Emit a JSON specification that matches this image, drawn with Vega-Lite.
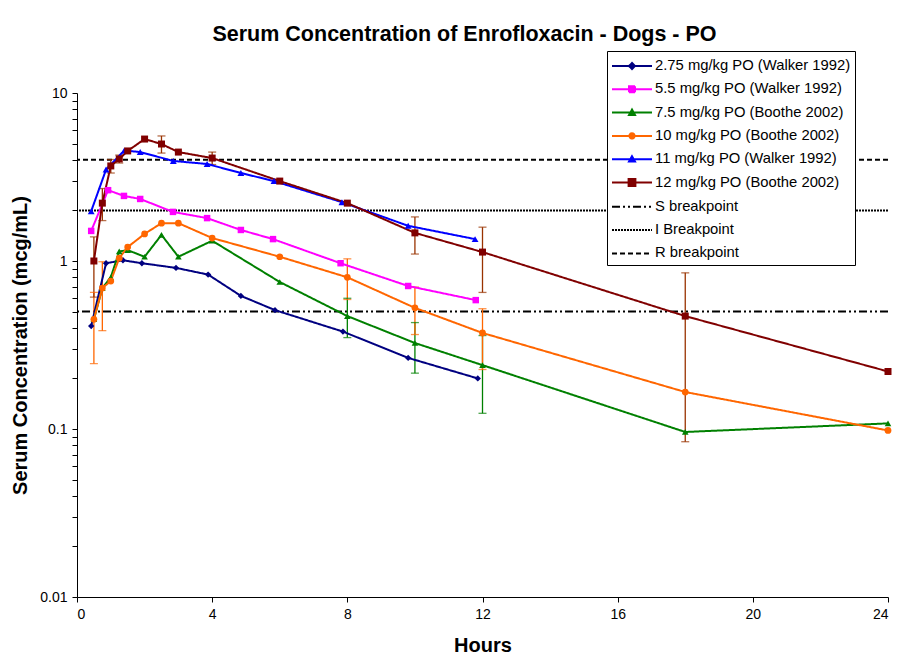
{
  "$schema": "https://vega.github.io/schema/vega-lite/v6.json",
  "width": 811,
  "height": 504,
  "autosize": {"type": "none"},
  "padding": {"left": 77, "top": 93, "right": 32, "bottom": 74},
  "background": "white",
  "config": {
    "view": {"stroke": null},
    "font": "Liberation Sans",
    "axis": {"domainColor": "black", "tickColor": "black", "labelColor": "black", "titleColor": "black", "grid": false, "labelFont": "Liberation Sans", "titleFont": "Liberation Sans", "labelFontSize": 14, "titleFontSize": 20, "titleFontWeight": "bold", "tickSize": 5, "domainWidth": 1, "tickWidth": 1}
  },
  "title": {"text": "Serum Concentration of Enrofloxacin - Dogs - PO", "font": "Liberation Sans", "fontSize": 21.5, "fontWeight": "bold", "color": "black", "anchor": "middle", "dx": -18, "offset": 5},
  "datasets": {
    "pk": [
      {"series": "2.75 mg/kg PO (Walker 1992)", "hours": 0.42, "conc": 0.41},
      {"series": "2.75 mg/kg PO (Walker 1992)", "hours": 0.86, "conc": 0.97},
      {"series": "2.75 mg/kg PO (Walker 1992)", "hours": 1.36, "conc": 1.01},
      {"series": "2.75 mg/kg PO (Walker 1992)", "hours": 1.92, "conc": 0.97},
      {"series": "2.75 mg/kg PO (Walker 1992)", "hours": 2.93, "conc": 0.91},
      {"series": "2.75 mg/kg PO (Walker 1992)", "hours": 3.88, "conc": 0.83},
      {"series": "2.75 mg/kg PO (Walker 1992)", "hours": 4.85, "conc": 0.62},
      {"series": "2.75 mg/kg PO (Walker 1992)", "hours": 5.86, "conc": 0.51},
      {"series": "2.75 mg/kg PO (Walker 1992)", "hours": 7.87, "conc": 0.38},
      {"series": "2.75 mg/kg PO (Walker 1992)", "hours": 9.8, "conc": 0.265},
      {"series": "2.75 mg/kg PO (Walker 1992)", "hours": 11.86, "conc": 0.2},
      {"series": "5.5 mg/kg PO (Walker 1992)", "hours": 0.42, "conc": 1.51},
      {"series": "5.5 mg/kg PO (Walker 1992)", "hours": 0.92, "conc": 2.64},
      {"series": "5.5 mg/kg PO (Walker 1992)", "hours": 1.39, "conc": 2.44},
      {"series": "5.5 mg/kg PO (Walker 1992)", "hours": 1.87, "conc": 2.34},
      {"series": "5.5 mg/kg PO (Walker 1992)", "hours": 2.84, "conc": 1.96},
      {"series": "5.5 mg/kg PO (Walker 1992)", "hours": 3.85, "conc": 1.8},
      {"series": "5.5 mg/kg PO (Walker 1992)", "hours": 4.85, "conc": 1.53},
      {"series": "5.5 mg/kg PO (Walker 1992)", "hours": 5.8, "conc": 1.35},
      {"series": "5.5 mg/kg PO (Walker 1992)", "hours": 7.8, "conc": 0.97},
      {"series": "5.5 mg/kg PO (Walker 1992)", "hours": 9.8, "conc": 0.71},
      {"series": "5.5 mg/kg PO (Walker 1992)", "hours": 11.8, "conc": 0.585},
      {"series": "7.5 mg/kg PO (Boothe 2002)", "hours": 0.5, "conc": 0.45},
      {"series": "7.5 mg/kg PO (Boothe 2002)", "hours": 0.75, "conc": 0.69},
      {"series": "7.5 mg/kg PO (Boothe 2002)", "hours": 1, "conc": 0.8},
      {"series": "7.5 mg/kg PO (Boothe 2002)", "hours": 1.25, "conc": 1.14},
      {"series": "7.5 mg/kg PO (Boothe 2002)", "hours": 1.5, "conc": 1.16},
      {"series": "7.5 mg/kg PO (Boothe 2002)", "hours": 2, "conc": 1.06},
      {"series": "7.5 mg/kg PO (Boothe 2002)", "hours": 2.5, "conc": 1.43},
      {"series": "7.5 mg/kg PO (Boothe 2002)", "hours": 3, "conc": 1.06},
      {"series": "7.5 mg/kg PO (Boothe 2002)", "hours": 4, "conc": 1.32},
      {"series": "7.5 mg/kg PO (Boothe 2002)", "hours": 6, "conc": 0.75},
      {"series": "7.5 mg/kg PO (Boothe 2002)", "hours": 8, "conc": 0.47},
      {"series": "7.5 mg/kg PO (Boothe 2002)", "hours": 10, "conc": 0.325},
      {"series": "7.5 mg/kg PO (Boothe 2002)", "hours": 12, "conc": 0.24},
      {"series": "7.5 mg/kg PO (Boothe 2002)", "hours": 18, "conc": 0.096},
      {"series": "7.5 mg/kg PO (Boothe 2002)", "hours": 24, "conc": 0.108},
      {"series": "10 mg/kg PO (Boothe 2002)", "hours": 0.5, "conc": 0.45},
      {"series": "10 mg/kg PO (Boothe 2002)", "hours": 0.75, "conc": 0.69},
      {"series": "10 mg/kg PO (Boothe 2002)", "hours": 1, "conc": 0.76},
      {"series": "10 mg/kg PO (Boothe 2002)", "hours": 1.25, "conc": 1.04},
      {"series": "10 mg/kg PO (Boothe 2002)", "hours": 1.5, "conc": 1.21},
      {"series": "10 mg/kg PO (Boothe 2002)", "hours": 2, "conc": 1.45},
      {"series": "10 mg/kg PO (Boothe 2002)", "hours": 2.5, "conc": 1.68},
      {"series": "10 mg/kg PO (Boothe 2002)", "hours": 3, "conc": 1.68},
      {"series": "10 mg/kg PO (Boothe 2002)", "hours": 4, "conc": 1.37},
      {"series": "10 mg/kg PO (Boothe 2002)", "hours": 6, "conc": 1.06},
      {"series": "10 mg/kg PO (Boothe 2002)", "hours": 8, "conc": 0.8},
      {"series": "10 mg/kg PO (Boothe 2002)", "hours": 10, "conc": 0.526},
      {"series": "10 mg/kg PO (Boothe 2002)", "hours": 12, "conc": 0.373},
      {"series": "10 mg/kg PO (Boothe 2002)", "hours": 18, "conc": 0.166},
      {"series": "10 mg/kg PO (Boothe 2002)", "hours": 24, "conc": 0.098},
      {"series": "11 mg/kg PO (Walker 1992)", "hours": 0.42, "conc": 1.98},
      {"series": "11 mg/kg PO (Walker 1992)", "hours": 0.86, "conc": 3.5},
      {"series": "11 mg/kg PO (Walker 1992)", "hours": 1.4, "conc": 4.55},
      {"series": "11 mg/kg PO (Walker 1992)", "hours": 1.87, "conc": 4.45},
      {"series": "11 mg/kg PO (Walker 1992)", "hours": 2.85, "conc": 3.94},
      {"series": "11 mg/kg PO (Walker 1992)", "hours": 3.85, "conc": 3.78},
      {"series": "11 mg/kg PO (Walker 1992)", "hours": 4.85, "conc": 3.34},
      {"series": "11 mg/kg PO (Walker 1992)", "hours": 5.83, "conc": 2.99},
      {"series": "11 mg/kg PO (Walker 1992)", "hours": 7.84, "conc": 2.24},
      {"series": "11 mg/kg PO (Walker 1992)", "hours": 9.8, "conc": 1.62},
      {"series": "11 mg/kg PO (Walker 1992)", "hours": 11.78, "conc": 1.35},
      {"series": "12 mg/kg PO (Boothe 2002)", "hours": 0.5, "conc": 1.0},
      {"series": "12 mg/kg PO (Boothe 2002)", "hours": 0.75, "conc": 2.21},
      {"series": "12 mg/kg PO (Boothe 2002)", "hours": 1, "conc": 3.68},
      {"series": "12 mg/kg PO (Boothe 2002)", "hours": 1.25, "conc": 4.05},
      {"series": "12 mg/kg PO (Boothe 2002)", "hours": 1.5, "conc": 4.52},
      {"series": "12 mg/kg PO (Boothe 2002)", "hours": 2, "conc": 5.32},
      {"series": "12 mg/kg PO (Boothe 2002)", "hours": 2.5, "conc": 4.97},
      {"series": "12 mg/kg PO (Boothe 2002)", "hours": 3, "conc": 4.45},
      {"series": "12 mg/kg PO (Boothe 2002)", "hours": 4, "conc": 4.1},
      {"series": "12 mg/kg PO (Boothe 2002)", "hours": 6, "conc": 2.99},
      {"series": "12 mg/kg PO (Boothe 2002)", "hours": 8, "conc": 2.21},
      {"series": "12 mg/kg PO (Boothe 2002)", "hours": 10, "conc": 1.47},
      {"series": "12 mg/kg PO (Boothe 2002)", "hours": 12, "conc": 1.13},
      {"series": "12 mg/kg PO (Boothe 2002)", "hours": 18, "conc": 0.47},
      {"series": "12 mg/kg PO (Boothe 2002)", "hours": 24, "conc": 0.22}
    ],
    "err": [
      {"series": "7.5 mg/kg PO (Boothe 2002)", "hours": 8, "low": 0.35, "high": 0.6},
      {"series": "7.5 mg/kg PO (Boothe 2002)", "hours": 10, "low": 0.215, "high": 0.43},
      {"series": "7.5 mg/kg PO (Boothe 2002)", "hours": 12, "low": 0.124, "high": 0.36},
      {"series": "10 mg/kg PO (Boothe 2002)", "hours": 0.5, "low": 0.245, "high": 0.65},
      {"series": "10 mg/kg PO (Boothe 2002)", "hours": 0.75, "low": 0.385, "high": 0.99},
      {"series": "10 mg/kg PO (Boothe 2002)", "hours": 8, "low": 0.59, "high": 1.03},
      {"series": "10 mg/kg PO (Boothe 2002)", "hours": 10, "low": 0.365, "high": 0.7},
      {"series": "10 mg/kg PO (Boothe 2002)", "hours": 12, "low": 0.226, "high": 0.52},
      {"series": "12 mg/kg PO (Boothe 2002)", "hours": 0.5, "low": 0.61, "high": 1.39},
      {"series": "12 mg/kg PO (Boothe 2002)", "hours": 0.75, "low": 1.74, "high": 2.7},
      {"series": "12 mg/kg PO (Boothe 2002)", "hours": 1, "low": 3.34, "high": 4.02},
      {"series": "12 mg/kg PO (Boothe 2002)", "hours": 1.25, "low": 3.83, "high": 4.27},
      {"series": "12 mg/kg PO (Boothe 2002)", "hours": 2.5, "low": 4.39, "high": 5.55},
      {"series": "12 mg/kg PO (Boothe 2002)", "hours": 4, "low": 3.75, "high": 4.45},
      {"series": "12 mg/kg PO (Boothe 2002)", "hours": 10, "low": 1.1, "high": 1.83},
      {"series": "12 mg/kg PO (Boothe 2002)", "hours": 12, "low": 0.65, "high": 1.59},
      {"series": "12 mg/kg PO (Boothe 2002)", "hours": 18, "low": 0.084, "high": 0.85}
    ],
    "bp": [
      {"series": "S breakpoint", "conc": 0.5},
      {"series": "I Breakpoint", "conc": 2},
      {"series": "R breakpoint", "conc": 4}
    ]
  },
  "layer": [
    {
      "data": {"name": "bp"},
      "mark": {"type": "rule", "strokeWidth": 2},
      "encoding": {
        "y": {"field": "conc", "type": "quantitative",
          "scale": {"type": "log", "domain": [0.01, 10], "nice": false},
          "axis": {"title": "Serum Concentration (mcg/mL)", "titlePadding": 9, "labelPadding": 5,
            "values": [0.01, 0.02, 0.03, 0.04, 0.05, 0.06, 0.07, 0.08, 0.09, 0.1, 0.2, 0.3, 0.4, 0.5, 0.6, 0.7, 0.8, 0.9, 1, 2, 3, 4, 5, 6, 7, 8, 9, 10],
            "labelExpr": "datum.value == 0.01 || datum.value == 0.1 || datum.value == 1 || datum.value == 10 ? datum.label : ''",
            "format": "~g"}},
        "color": {"field": "series", "type": "nominal",
          "scale": {"domain": ["2.75 mg/kg PO (Walker 1992)", "5.5 mg/kg PO (Walker 1992)", "7.5 mg/kg PO (Boothe 2002)", "10 mg/kg PO (Boothe 2002)", "11 mg/kg PO (Walker 1992)", "12 mg/kg PO (Boothe 2002)", "S breakpoint", "I Breakpoint", "R breakpoint"],
            "range": ["#000080", "#FF00FF", "#008000", "#FF6600", "#0000FF", "#800000", "#000000", "#000000", "#000000"]},
          "legend": {"title": null, "orient": "none", "legendX": 530, "legendY": -42,
            "labelFont": "Liberation Sans", "labelFontSize": 14.8, "labelColor": "black", "labelLimit": 400,
            "padding": 4, "strokeColor": "black", "fillColor": "white", "rowPadding": 5.3, "labelOffset": 12, "symbolOffset": 10,
            "symbolSize": 400, "symbolStrokeWidth": 2,
            "encode": {"symbols": {"update": {
              "shape": {"signal": "datum.value === '2.75 mg/kg PO (Walker 1992)' ? 'M-2,0H2M-0.3,0L0,-0.3L0.3,0L0,0.3Z' : datum.value === '5.5 mg/kg PO (Walker 1992)' ? 'M-2,0H2M-0.3,-0.3H0.3V0.3H-0.3Z' : (datum.value === '7.5 mg/kg PO (Boothe 2002)' || datum.value === '11 mg/kg PO (Walker 1992)') ? 'M-2,0H2M-0.3,0.24L0,-0.3L0.3,0.24Z' : datum.value === '10 mg/kg PO (Boothe 2002)' ? 'M-2,0H2M-0.26,0A0.26,0.26,0,1,0,0.26,0A0.26,0.26,0,1,0,-0.26,0Z' : datum.value === '12 mg/kg PO (Boothe 2002)' ? 'M-2,0H2M-0.34,-0.34H0.34V0.34H-0.34Z' : 'M-2,0H2'"},
              "fill": {"signal": "scale('color', datum.value)"},
              "stroke": {"signal": "scale('color', datum.value)"},
              "strokeDash": {"signal": "scale('strokeDash', datum.value)"},
              "size": {"value": 400},
              "opacity": {"value": 1}
            }}}}},
        "strokeDash": {"field": "series", "type": "nominal",
          "scale": {"domain": ["2.75 mg/kg PO (Walker 1992)", "5.5 mg/kg PO (Walker 1992)", "7.5 mg/kg PO (Boothe 2002)", "10 mg/kg PO (Boothe 2002)", "11 mg/kg PO (Walker 1992)", "12 mg/kg PO (Boothe 2002)", "S breakpoint", "I Breakpoint", "R breakpoint"],
            "range": [[1, 0], [1, 0], [1, 0], [1, 0], [1, 0], [1, 0], [8, 3, 2, 3, 2, 3], [2, 1], [5, 3]]},
          "legend": null}
      }
    },
    {
      "data": {"name": "err"},
      "mark": {"type": "rule", "strokeWidth": 1.3},
      "encoding": {
        "x": {"field": "hours", "type": "quantitative",
          "scale": {"domain": [0, 24], "nice": false},
          "axis": {"title": "Hours", "values": [0, 4, 8, 12, 16, 20, 24], "labelPadding": 5, "titlePadding": 14}},
        "y": {"field": "low", "type": "quantitative"},
        "y2": {"field": "high"},
        "stroke": {"field": "series", "type": "nominal", "legend": null,
          "scale": {"domain": ["7.5 mg/kg PO (Boothe 2002)", "10 mg/kg PO (Boothe 2002)", "12 mg/kg PO (Boothe 2002)"], "range": ["#008000", "#FF6600", "#993300"]}}
      }
    },
    {
      "data": {"name": "err"},
      "mark": {"type": "tick", "orient": "horizontal", "size": 8, "thickness": 1.3},
      "encoding": {
        "x": {"field": "hours", "type": "quantitative"},
        "y": {"field": "low", "type": "quantitative"},
        "fill": {"field": "series", "type": "nominal", "legend": null,
          "scale": {"domain": ["7.5 mg/kg PO (Boothe 2002)", "10 mg/kg PO (Boothe 2002)", "12 mg/kg PO (Boothe 2002)"], "range": ["#008000", "#FF6600", "#993300"]}}
      }
    },
    {
      "data": {"name": "err"},
      "mark": {"type": "tick", "orient": "horizontal", "size": 8, "thickness": 1.3},
      "encoding": {
        "x": {"field": "hours", "type": "quantitative"},
        "y": {"field": "high", "type": "quantitative"},
        "fill": {"field": "series", "type": "nominal", "legend": null}
      }
    },
    {
      "data": {"name": "pk"},
      "mark": {"type": "line", "strokeWidth": 2},
      "encoding": {
        "x": {"field": "hours", "type": "quantitative"},
        "y": {"field": "conc", "type": "quantitative"},
        "color": {"field": "series", "type": "nominal"},
        "strokeDash": {"field": "series", "type": "nominal"}
      }
    },
    {
      "data": {"name": "pk"},
      "mark": {"type": "point", "filled": true, "opacity": 1, "strokeWidth": 0},
      "encoding": {
        "x": {"field": "hours", "type": "quantitative"},
        "y": {"field": "conc", "type": "quantitative"},
        "color": {"field": "series", "type": "nominal"},
        "shape": {"field": "series", "type": "nominal", "legend": null,
          "scale": {"domain": ["2.75 mg/kg PO (Walker 1992)", "5.5 mg/kg PO (Walker 1992)", "7.5 mg/kg PO (Boothe 2002)", "10 mg/kg PO (Boothe 2002)", "11 mg/kg PO (Walker 1992)", "12 mg/kg PO (Boothe 2002)"],
            "range": ["diamond", "square", "triangle-up", "circle", "triangle-up", "square"]}},
        "size": {"field": "series", "type": "nominal", "legend": null,
          "scale": {"domain": ["2.75 mg/kg PO (Walker 1992)", "5.5 mg/kg PO (Walker 1992)", "7.5 mg/kg PO (Boothe 2002)", "10 mg/kg PO (Boothe 2002)", "11 mg/kg PO (Walker 1992)", "12 mg/kg PO (Boothe 2002)"],
            "range": [40, 49, 56, 55, 64, 81]}}
      }
    }
  ]
}
